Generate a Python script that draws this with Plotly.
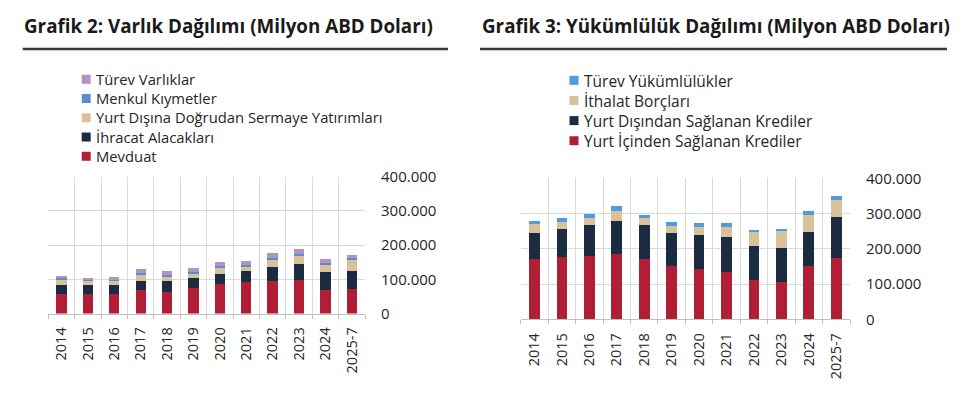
import plotly.graph_objects as go

years = ["2014", "2015", "2016", "2017", "2018", "2019", "2020", "2021", "2022", "2023", "2024", "2025-7"]

# Grafik 2: Varlık Dağılımı (Milyon ABD Doları)
mevduat = [56000, 56000, 56000, 69000, 64000, 74000, 86000, 91000, 95000, 99000, 69000, 73000]
ihracat_alacaklari = [26000, 26000, 26000, 25000, 30000, 30000, 30000, 33000, 41000, 46000, 51000, 50000]
yurt_disi_dogrudan = [19000, 14000, 15000, 20000, 16000, 15000, 16000, 15000, 21000, 25000, 22000, 35000]
menkul_kiymetler = [2000, 1000, 2000, 3000, 2000, 3000, 7000, 4000, 6000, 4000, 6000, 3000]
turev_varliklar = [8000, 7000, 8000, 12000, 12000, 11000, 11000, 11000, 13000, 14000, 10000, 10000]

# Grafik 3: Yükümlülük Dağılımı (Milyon ABD Doları)
yurt_ici_krediler = [171000, 177000, 179000, 184000, 171000, 152000, 144000, 135000, 112000, 107000, 152000, 173000]
yurt_disi_krediler = [75000, 78000, 88000, 95000, 96000, 94000, 95000, 98000, 96000, 96000, 96000, 116000]
ithalat_borclari = [24000, 21000, 21000, 28000, 20000, 20000, 24000, 30000, 39000, 49000, 48000, 50000]
turev_yukumlulukler = [10000, 12000, 11000, 15000, 9000, 10000, 11000, 11000, 6000, 5000, 10000, 11000]

left_series = [
    ("Mevduat", mevduat, "#B01F35"),
    ("İhracat Alacakları", ihracat_alacaklari, "#1A2B42"),
    ("Yurt Dışına Doğrudan Sermaye Yatırımları", yurt_disi_dogrudan, "#D8C19B"),
    ("Menkul Kıymetler", menkul_kiymetler, "#5A8DCB"),
    ("Türev Varlıklar", turev_varliklar, "#B592C4"),
]
right_series = [
    ("Yurt İçinden Sağlanan Krediler", yurt_ici_krediler, "#B01F35"),
    ("Yurt Dışından Sağlanan Krediler", yurt_disi_krediler, "#1A2B42"),
    ("İthalat Borçları", ithalat_borclari, "#D8C19B"),
    ("Türev Yükümlülükler", turev_yukumlulukler, "#4C9BE3"),
]

titles = ["Grafik 2: Varlık Dağılımı (Milyon ABD Doları)",
          "Grafik 3: Yükümlülük Dağılımı (Milyon ABD Doları)"]

# page body has an 8px margin; figure is sized to fit the 976x395 window
OX, OY = 8, 8
W, H = 960, 379
FONT = "Open Sans"
TXT = "#262626"


def px_x(v):
    return (v - OX) / W


def px_y(v):
    return 1 - (v - OY) / H


fig = go.Figure()
for name, vals, col in left_series:
    fig.add_trace(go.Bar(x=years, y=vals, name=name, marker=dict(color=col, line=dict(width=0)),
                         xaxis="x", yaxis="y", showlegend=False))
for name, vals, col in right_series:
    fig.add_trace(go.Bar(x=years, y=vals, name=name, marker=dict(color=col, line=dict(width=0)),
                         xaxis="x2", yaxis="y2", showlegend=False))

grid = "#D9D9D9"
axis_common_x = dict(type="category", tickson="boundaries", ticks="outside", ticklen=4,
                     tickcolor="#BFBFBF", showgrid=True, gridcolor=grid, gridwidth=1,
                     showline=True, linecolor="#BFBFBF", linewidth=1, tickangle=-90,
                     ticklabelstandoff=7, automargin=False,
                     tickfont=dict(family=FONT, size=14.5, color=TXT))
axis_common_y = dict(range=[0, 400000], dtick=100000, tickformat=",d", side="right",
                     showgrid=True, gridcolor=grid, gridwidth=1, zeroline=False,
                     ticks="", ticklabelstandoff=15, automargin=False,
                     tickfont=dict(family=FONT, size=15, color=TXT))

annotations = []
shapes = []

# titles + underlines
for title, tx, lx0, lx1 in [(titles[0], 22, 22.7, 448), (titles[1], 480, 480, 947)]:
    annotations.append(dict(text="<b>" + title + "</b>", xref="paper", yref="paper",
                            x=px_x(tx), y=px_y(25.5), xanchor="left", yanchor="middle",
                            showarrow=False, font=dict(family=FONT, size=18.8, color="#1A1A1A")))
    shapes.append(dict(type="line", xref="paper", yref="paper", x0=px_x(lx0), x1=px_x(lx1),
                       y0=px_y(49), y1=px_y(49), line=dict(color="#3A3A3A", width=2.7)))

# legends (top entry = last stacked series); one multi-line text block per legend
for series, sq_x, txt_x, y_first, fsize in [(left_series, 81.7, 94, 79.3, 14.8),
                                            (right_series, 569.5, 581.5, 80.3, 15.5)]:
    items = list(reversed(series))
    step = fsize * 1.3
    n = len(items)
    y_mid = y_first + step * (n - 1) / 2
    for i, (name, _, col) in enumerate(items):
        cy = y_first + i * step
        shapes.append(dict(type="rect", xref="paper", yref="paper",
                           x0=px_x(sq_x), x1=px_x(sq_x + 9), y0=px_y(cy - 4.5), y1=px_y(cy + 4.5),
                           fillcolor=col, line=dict(width=0)))
    annotations.append(dict(text="<br>".join(name for name, _, _ in items),
                            xref="paper", yref="paper", x=px_x(txt_x), y=px_y(y_mid),
                            xanchor="left", yanchor="middle", align="left", showarrow=False,
                            font=dict(family=FONT, size=fsize, color=TXT)))

fig.update_layout(
    width=W, height=H, margin=dict(l=0, r=0, t=0, b=0, autoexpand=False),
    paper_bgcolor="white", plot_bgcolor="white",
    barmode="stack", bargap=0.61, separators=",.",
    font=dict(family=FONT, color=TXT),
    xaxis=dict(domain=[px_x(48.3), px_x(365)], anchor="y", **axis_common_x),
    yaxis=dict(domain=[px_y(313.5), px_y(176.7)], anchor="x", **axis_common_y),
    xaxis2=dict(domain=[px_x(520.7), px_x(850)], anchor="y2", **axis_common_x),
    yaxis2=dict(domain=[px_y(319.3), px_y(178.3)], anchor="x2", **axis_common_y),
    showlegend=False,
    annotations=annotations,
    shapes=shapes,
)

fig.write_html("out.html")
